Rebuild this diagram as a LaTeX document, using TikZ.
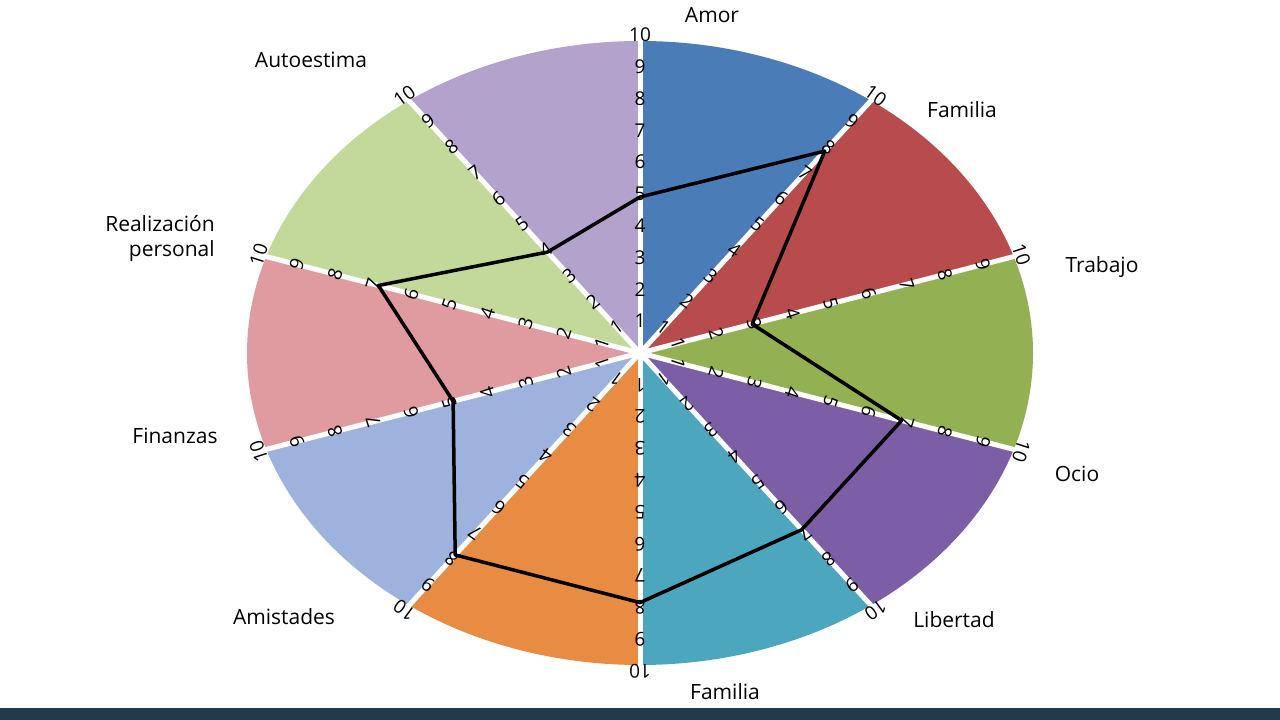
\documentclass[tikz,border=0pt]{standalone}
\usepackage{fontspec}
\setmainfont{Open Sans}
\definecolor{cA}{HTML}{4A7DB8}
\definecolor{cB}{HTML}{B84B4B}
\definecolor{cC}{HTML}{93B153}
\definecolor{cD}{HTML}{7B5EA5}
\definecolor{cE}{HTML}{4BA6BE}
\definecolor{cF}{HTML}{E88C43}
\definecolor{cG}{HTML}{9DB3DE}
\definecolor{cH}{HTML}{DF9B9F}
\definecolor{cI}{HTML}{C3D99A}
\definecolor{cJ}{HTML}{B3A2CB}
\definecolor{barc}{HTML}{1F3B4D}
\tikzset{lab/.style={font=\fontsize{21}{25}\selectfont, align=center},
 num/.style={font=\fontsize{19}{20}\selectfont, inner sep=0pt}}
\begin{document}
\begin{tikzpicture}[x=1pt,y=1pt]
\useasboundingbox (0,0) rectangle (1280,720);
\fill[white] (0,0) rectangle (1280,720);
\fill[barc] (0,0) rectangle (1280,12);
\def\RX{393}\def\RY{312}
\coordinate (O) at (640,367);
\foreach \a/\c in {90/cA,54/cB,18/cC,-18/cD,-54/cE,-90/cF,-126/cG,-162/cH,-198/cI,-234/cJ}
 \fill[\c] (O) -- ++({\RX*cos(\a)},{\RY*sin(\a)}) arc[start angle=\a, end angle=\a-36, x radius=\RX, y radius=\RY] -- cycle;
\foreach \a in {90,54,18,-18,-54,-90,-126,-162,-198,-234}{
 \draw[white, line width=5pt] (O) -- ++({1.03*\RX*cos(\a)},{1.03*\RY*sin(\a)});
 \foreach \k in {1,...,10}
  \node[num, rotate=\a-90] at ([shift={({\k/10*1.02*\RX*cos(\a)},{\k/10*1.02*\RY*sin(\a)})}]O) {\k};
}
\foreach \a/\v [count=\i] in {90/5,54/8,18/3,-18/7,-54/7,-90/8,-126/8,-162/5,-198/7,-234/4}
 \coordinate (p\i) at ([shift={({\v/10*\RX*cos(\a)},{\v/10*\RY*sin(\a)})}]O);
\draw[black, line width=3.5pt, line join=round] (p1)--(p2)--(p3)--(p4)--(p5)--(p6)--(p7)--(p8)--(p9)--(p10)--cycle;
\node[lab] (l1) at (712,705) {Amor};
\node[lab] (l2) at (962,610) {Familia};
\node[lab] (l3) at (1102,453) {Trabajo};
\node[lab] (l4) at (1077,246) {Ocio};
\node[lab] (l5) at (954,100) {Libertad};
\node[lab] (l6) at (725,28) {Familia};
\node[lab] (l7) at (284,103) {Amistades};
\node[lab] (l8) at (175,284) {Finanzas};
\node[lab, align=right] (l9) at (160,482) {Realización\\personal};
\node[lab] (l10) at (311,660) {Autoestima};
\end{tikzpicture}
\end{document}
